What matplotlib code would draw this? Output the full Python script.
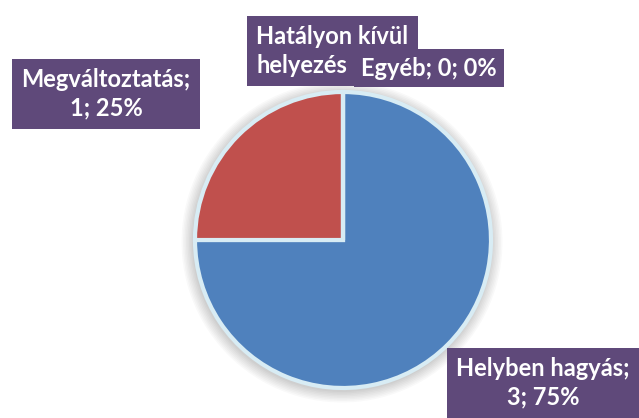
import matplotlib.pyplot as plt
from matplotlib.patches import Circle

plt.rcParams['font.family'] = ['Lato', 'DejaVu Sans']

categories = ['Helyben hagyás', 'Megváltoztatás', 'Hatályon kívül helyezés', 'Egyéb']
values = [3, 1, 0, 0]
percents = [75, 25, 0, 0]
colors = ['#4f81bd', '#c0504d', '#9bbb59', '#8064a2']

fig = plt.figure(figsize=(6.39, 4.18), dpi=100)
ax = fig.add_axes([0, 0, 1, 1])

cx, cy, r = 343, 178, 148

# soft shadow behind the pie
for i in range(8):
    ax.add_patch(Circle((cx - 1, cy - 2), r + 2 + i * 1.5, color='#000000',
                        alpha=0.025, lw=0, zorder=0))

ax.pie(values, colors=colors, startangle=90, counterclock=False,
       center=(cx, cy), radius=r, frame=True,
       wedgeprops=dict(edgecolor='#d8ecf4', linewidth=3.0))
ax.set_xlim(0, 639)
ax.set_ylim(0, 418)
ax.set_aspect('equal')
ax.axis('off')

box = dict(boxstyle='square,pad=0.4', fc='#5f497a', ec='none')
txt = dict(color='white', fontsize=17, fontweight='bold', zorder=5)

def lab(i):
    return f'{categories[i]};\n{values[i]}; {percents[i]}%'

ax.text(106, 324, lab(1), ha='center', va='center', linespacing=1.3,
        bbox=box, **txt)
ax.text(543, 35, lab(0), ha='center', va='center', linespacing=1.3,
        bbox=box, **txt)
ax.text(256, 367, 'Hatályon kívül\nhelyezés', ha='left', va='center',
        linespacing=1.3, bbox=box, **txt)
ax.text(429, 350, f'{categories[3]}; {values[3]}; {percents[3]}%',
        ha='center', va='center',
        bbox=dict(boxstyle='square,pad=0.3', fc='#5f497a', ec='none'),
        color='white', fontsize=17, fontweight='bold', zorder=6)

fig.savefig('out.png', dpi=100)
